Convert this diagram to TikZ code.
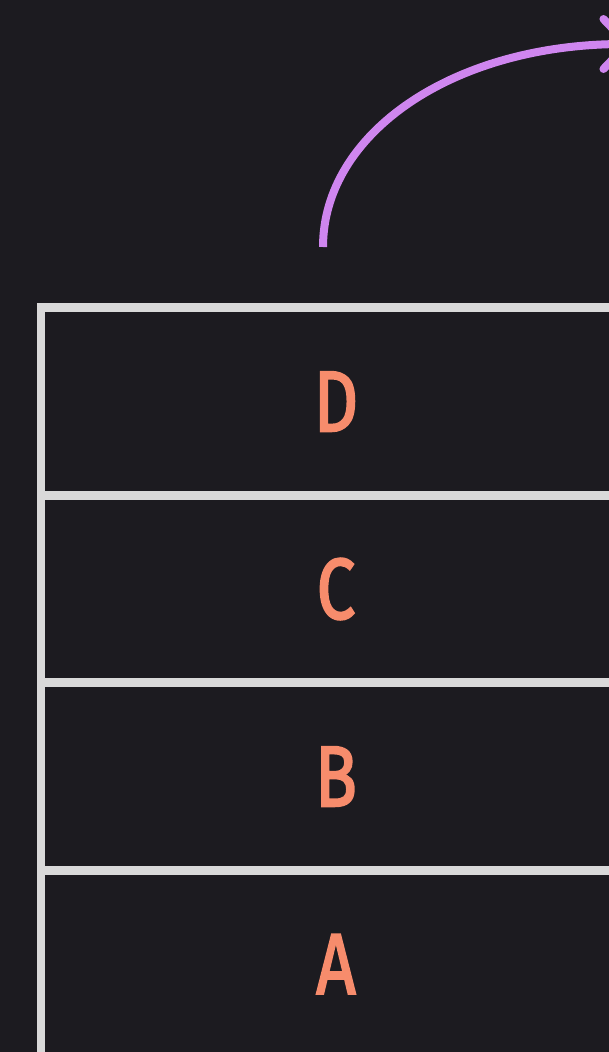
\documentclass[tikz,border=0pt]{standalone}
\usepackage{fontspec}
\setmainfont{Fira Sans}
\newfontfamily\letterfont{Fira Sans}[FakeBold=2.6]
\usetikzlibrary{arrows.meta}
\definecolor{bg}{HTML}{1C1B20}
\definecolor{boxline}{HTML}{D9D9D9}
\definecolor{letter}{HTML}{F78C6C}
\definecolor{arc}{HTML}{CF86EF}
\tikzset{
  stackbox/.style={draw=boxline, line width=8.6pt, fill=bg, minimum width=590pt, minimum height=187.5pt, inner sep=0pt, text=letter, font=\letterfont\fontsize{86}{86}\selectfont},
  arcline/.style={draw=arc, line width=8pt, -{Straight Barb[length=24pt,width=50pt,line cap=round]}}
}
\newcommand{\narrow}[1]{\scalebox{0.8}[1]{#1}}
\begin{document}
\begin{tikzpicture}[x=1pt,y=-1pt]
\fill[bg] (0,0) rectangle (609,1052);
\useasboundingbox (0,0) rectangle (609,1052);
\node[stackbox] (A) at (336,964) {\narrow{A}};
\node[stackbox] (B) at (336,776.5) {\narrow{B}};
\node[stackbox] (C) at (336,589) {\narrow{C}};
\node[stackbox] (D) at (336,401.5) {\narrow{D}};
\coordinate (s) at (323,247);
\coordinate (e) at (633,44);
\draw[arcline] (s) .. controls (323,134) and (452,44) .. (e);
\end{tikzpicture}
\end{document}
